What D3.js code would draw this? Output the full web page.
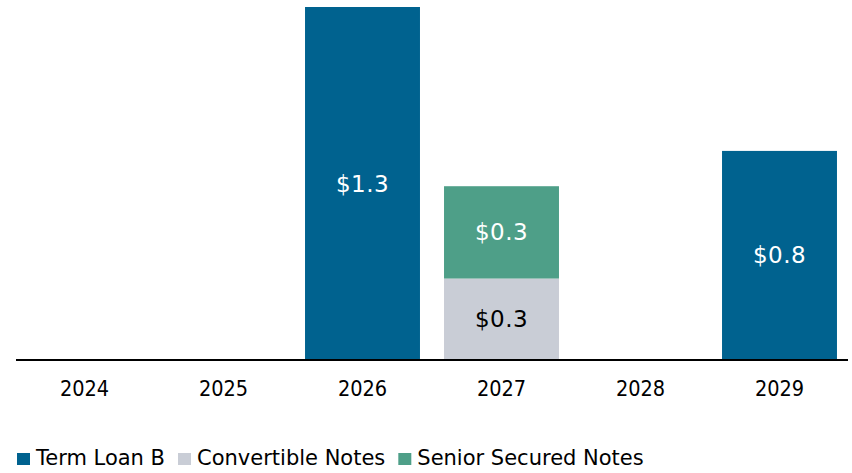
<!DOCTYPE html>
<html>
<head>
<meta charset="utf-8">
<script src="https://cdn.jsdelivr.net/npm/d3@7"></script>
<style>
  body { margin: 0; background: #fff; }
  text { font-family: "DejaVu Sans", sans-serif; }
</style>
</head>
<body>
<script>
var years = ["2024", "2025", "2026", "2027", "2028", "2029"];
var seriesNames = ["Term Loan B", "Convertible Notes", "Senior Secured Notes"];
var termLoanB = [0, 0, 1.30, 0, 0, 0.77];
var convertible = [0, 0, 0, 0.30, 0, 0];
var seniorSecured = [0, 0, 0, 0.34, 0, 0];
var colors = ["#00628f", "#c9cdd6", "#4e9f88"];
var labelColors = ["#ffffff", "#000000", "#ffffff"];

var width = 852, height = 473;

var svg = d3.select("body").append("svg")
    .attr("width", width)
    .attr("height", height);

var x = d3.scaleBand()
    .domain(years)
    .range([15, 849])
    .paddingInner(0.173)
    .paddingOuter(0.0865);

var y = d3.scaleLinear()
    .domain([0, 1.3])
    .range([360, 7]);

var table = years.map(function(yr, i) {
  return { year: yr, tlb: termLoanB[i], conv: convertible[i], senior: seniorSecured[i] };
});

var stack = d3.stack().keys(["tlb", "conv", "senior"]);
var layers = stack(table);
var fmt = d3.format(".1f");

var groups = svg.selectAll(".layer")
    .data(layers)
  .enter().append("g")
    .attr("class", "layer")
    .attr("fill", function(d, i) { return colors[i]; });

groups.selectAll("rect")
    .data(function(d) { return d.filter(function(p) { return p[1] - p[0] > 0; }); })
  .enter().append("rect")
    .attr("x", function(d) { return x(d.data.year); })
    .attr("y", function(d) { return y(d[1]); })
    .attr("width", x.bandwidth())
    .attr("height", function(d) { return y(d[0]) - y(d[1]); });

groups.selectAll("text")
    .data(function(d, i) {
      return d.filter(function(p) { return p[1] - p[0] > 0; })
        .map(function(p) { p.li = i; return p; });
    })
  .enter().append("text")
    .attr("x", function(d) { return x(d.data.year) + x.bandwidth() / 2; })
    .attr("y", function(d) { return (y(d[0]) + y(d[1])) / 2; })
    .attr("text-anchor", "middle")
    .attr("dominant-baseline", "central")
    .attr("font-size", 23)
    .attr("letter-spacing", 0.5)
    .attr("fill", function(d) { return labelColors[d.li]; })
    .text(function(d) { return "$" + fmt(d[1] - d[0]); });

// baseline + year labels
var xAxis = d3.axisBottom(x).tickSize(0).tickPadding(21);
var axisG = svg.append("g")
    .attr("transform", "translate(0," + y(0) + ")")
    .call(xAxis);
axisG.select(".domain")
    .attr("d", "M16,0H848")
    .attr("stroke", "#000")
    .attr("stroke-width", 2);
axisG.selectAll(".tick text")
    .attr("font-size", 21.5)
    .attr("fill", "#000")
    .style("font-family", "'DejaVu Sans Condensed', 'DejaVu Sans', sans-serif");

// legend
var legend = svg.append("g").attr("transform", "translate(17,465)");
var lx = 0;
seriesNames.forEach(function(name, i) {
  var g = legend.append("g").attr("transform", "translate(" + lx + ",0)");
  g.append("rect")
    .attr("x", 0).attr("y", -12)
    .attr("width", 13).attr("height", 12)
    .attr("fill", colors[i]);
  var t = g.append("text")
    .attr("x", 19)
    .attr("y", 0)
    .attr("font-size", 21)
    .attr("fill", "#000")
    .text(name);
  lx += 19 + t.node().getComputedTextLength() + 13;
});
</script>
</body>
</html>
